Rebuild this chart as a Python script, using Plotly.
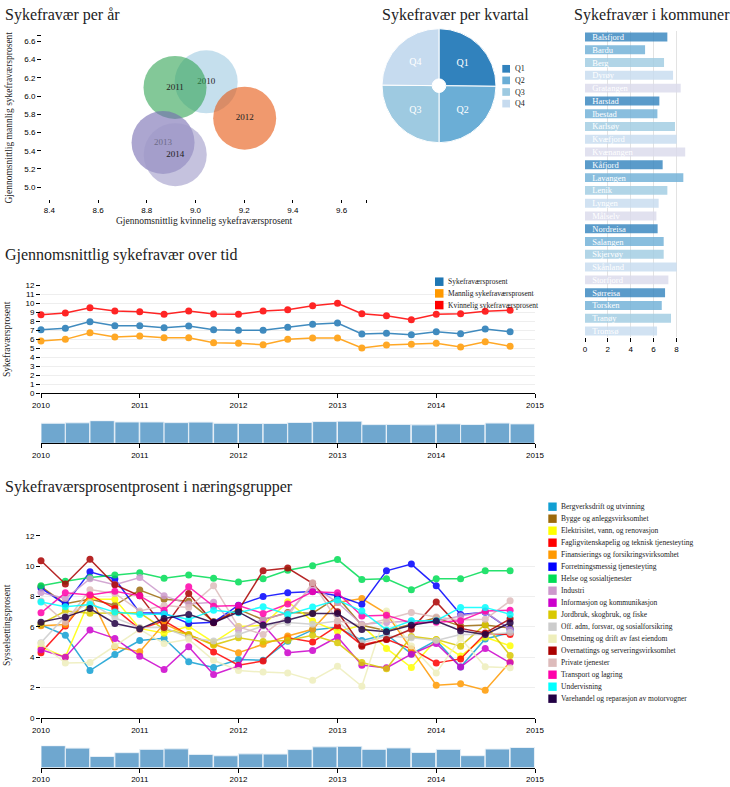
import plotly.graph_objects as go

W, H = 730, 787
def X(p):
    return p / W
def Y(p):
    return 1 - p / H

SERIF = "Liberation Serif, Times New Roman, serif"
SANS = "Liberation Sans, Arial, sans-serif"
TXT = "#222222"
tickfont = dict(family=SANS, size=8, color="#000")

# ---------------- data ----------------
years = ["2010", "2011", "2012", "2013", "2014"]
bubble_kvinnelig = [9.044, 8.916, 9.202, 8.867, 8.917]
bubble_mannlig = [6.156, 6.095, 5.757, 5.490, 5.357]

kvartaler = ["Q1", "Q2", "Q3", "Q4"]
kvartal_values = [7.2, 7.1, 7.2, 7.1]

kommuner = ["Balsfjord", "Bardu", "Berg", "Dyrøy", "Gratangen", "Harstad", "Ibestad",
            "Karlsøy", "Kvæfjord", "Kvænangen", "Kåfjord", "Lavangen", "Lenik", "Lyngen",
            "Målselv", "Nordreisa", "Salangen", "Skjervøy", "Skånland", "Storfjord",
            "Sørreisa", "Torsken", "Tranøy", "Tromsø"]
kommune_values = [7.21, 5.26, 6.92, 7.71, 8.38, 6.51, 6.34, 7.88, 8.03, 8.79, 6.80, 8.61,
                  7.21, 6.45, 6.25, 6.36, 6.89, 6.89, 8.03, 7.30, 7.01, 6.72, 7.53, 6.31]

quarter_dates = [f"{y}-{m:02d}-01" for y in range(2010, 2015) for m in (1, 4, 7, 10)]
year_ticks = [f"{y}-01-01" for y in range(2010, 2016)]
year_labels = [str(y) for y in range(2010, 2016)]

sykefravaer = [7.04, 7.19, 7.93, 7.48, 7.48, 7.26, 7.44, 7.04, 6.96, 6.96,
               7.30, 7.63, 7.78, 6.56, 6.63, 6.48, 6.81, 6.59, 7.11, 6.81]
mannlig = [5.78, 5.96, 6.70, 6.22, 6.33, 6.15, 6.15, 5.59, 5.52, 5.37,
           5.96, 6.11, 6.11, 5.00, 5.33, 5.41, 5.52, 5.11, 5.70, 5.19]
kvinnelig = [8.70, 8.89, 9.48, 9.11, 9.04, 8.74, 9.11, 8.78, 8.74, 9.11,
             9.26, 9.70, 9.96, 8.81, 8.59, 8.15, 8.74, 8.81, 9.07, 9.19]

bergverk = [6.12, 5.45, 3.12, 4.18, 5.10, 5.25, 3.70, 3.32, 3.85, 3.80, 5.05, 5.80, 5.97, 5.10, 5.50, 4.22, 5.10, 3.35, 5.20, 5.62]
bygge = [8.65, 7.52, 7.84, 7.42, 8.42, 7.81, 7.68, 6.35, 7.15, 6.47, 6.95, 6.90, 7.95, 6.10, 5.75, 6.16, 6.60, 6.05, 6.12, 5.92]
elektrisitet = [4.68, 4.01, 7.82, 7.82, 5.90, 5.58, 6.03, 4.98, 6.03, 6.10, 7.65, 6.38, 5.70, 6.10, 4.58, 3.32, 5.15, 4.08, 5.32, 4.75]
faglig = [4.30, 6.05, 8.12, 7.20, 5.85, 6.40, 5.45, 4.35, 3.47, 3.75, 5.28, 5.00, 6.07, 4.80, 5.18, 4.55, 3.62, 3.89, 5.55, 5.50]
finans = [6.07, 6.16, 8.05, 4.68, 4.36, 6.20, 5.47, 4.85, 4.30, 4.85, 5.40, 5.84, 7.60, 7.86, 6.87, 4.52, 2.16, 2.25, 1.83, 3.68]
forretning = [8.55, 7.48, 9.62, 9.15, 6.93, 6.90, 6.22, 6.30, 7.43, 7.99, 8.24, 8.32, 8.05, 7.48, 9.69, 10.13, 8.70, 6.82, 6.96, 5.83]
helse = [8.70, 9.00, 9.25, 9.42, 9.56, 9.20, 9.42, 9.20, 8.96, 9.17, 9.73, 10.02, 10.44, 9.12, 9.16, 8.45, 9.16, 9.16, 9.69, 9.69]
industri = [8.26, 7.86, 9.17, 8.78, 9.25, 8.04, 7.50, 7.62, 5.80, 6.50, 6.90, 8.70, 7.60, 6.17, 6.28, 6.39, 6.39, 6.72, 7.00, 5.80]
informasjon = [4.50, 4.00, 5.79, 5.24, 4.07, 3.19, 4.69, 2.86, 3.43, 6.15, 4.30, 4.45, 5.33, 3.48, 3.30, 4.20, 4.91, 3.35, 4.58, 3.63]
jordbruk = [6.20, 7.04, 6.90, 6.90, 6.92, 5.84, 5.50, 4.80, 5.28, 5.03, 5.10, 5.44, 4.95, 3.65, 3.24, 5.37, 5.17, 4.73, 6.16, 4.12]
offadm = [4.96, 6.70, 7.60, 6.60, 5.95, 5.95, 5.29, 5.07, 5.50, 6.06, 6.28, 6.17, 6.39, 4.96, 5.40, 5.29, 5.10, 5.50, 5.50, 5.62]
omsetning = [4.90, 3.62, 3.66, 4.75, 5.84, 4.90, 5.18, 3.80, 3.13, 3.02, 2.97, 2.49, 3.40, 2.09, 7.04, 4.74, 2.97, 5.25, 3.37, 3.30]
overnatting = [10.35, 8.82, 10.45, 8.77, 8.04, 5.95, 8.19, 6.27, 7.10, 9.70, 9.87, 8.87, 6.99, 4.73, 5.17, 5.84, 7.64, 5.90, 5.60, 6.53]
private = [7.70, 6.30, 8.45, 8.20, 7.05, 7.40, 7.27, 8.70, 6.00, 5.50, 6.70, 8.90, 6.40, 6.10, 6.50, 6.95, 6.65, 6.45, 6.50, 7.71]
transport = [6.92, 8.24, 8.10, 8.34, 8.04, 7.10, 8.64, 7.35, 7.40, 6.88, 7.50, 8.31, 8.24, 6.71, 6.77, 6.25, 6.30, 6.40, 7.05, 7.10]
undervisning = [7.64, 7.33, 7.47, 6.97, 6.82, 6.85, 6.48, 7.10, 6.93, 7.33, 6.82, 7.31, 7.76, 7.04, 5.80, 6.40, 6.40, 7.28, 7.28, 6.82]
varehandel = [6.31, 6.64, 7.20, 6.22, 5.87, 6.55, 6.82, 6.28, 6.98, 6.10, 6.45, 6.88, 6.88, 5.83, 5.67, 6.11, 6.38, 5.75, 5.50, 6.27]

naering_names = ["Bergverksdrift og utvinning", "Bygge og anleggsvirksomhet",
                 "Elektrisitet, vann, og renovasjon", "Fagligvitenskapelig og teknisk tjenesteyting",
                 "Finansierings og forsikringsvirksomhet", "Forretningsmessig tjenesteyting",
                 "Helse og sosialtjenester", "Industri", "Informasjon og kommunikasjon",
                 "Jordbruk, skogbruk, og fiske", "Off. adm, forsvar, og sosialforsikring",
                 "Omsetning og drift av fast eiendom", "Overnattings og serveringsvirksomhet",
                 "Private tjenester", "Transport og lagring", "Undervisning",
                 "Varehandel og reparasjon av motorvogner"]
naering_values = [bergverk, bygge, elektrisitet, faglig, finans, forretning, helse, industri,
                  informasjon, jordbruk, offadm, omsetning, overnatting, private, transport,
                  undervisning, varehandel]
naering_colors = ["#119fd3", "#9c6a0c", "#ffff00", "#ff0000", "#ff9900", "#0000ff", "#00dd55",
                  "#cc99cc", "#cc00cc", "#d9c800", "#cccccc", "#eeeebb", "#aa0000", "#ddbbbb",
                  "#ff00aa", "#00ffff", "#220044"]

# ---------------- figure ----------------
fig = go.Figure()

# Bubble chart
bubble_colors = ["#9ecae1", "#31a354", "#e6550d", "#756bb1", "#9e9ac8"]
for yr, kv, ma, c in zip(years, bubble_kvinnelig, bubble_mannlig, bubble_colors):
    fig.add_trace(go.Scatter(
        x=[kv], y=[ma], mode="markers+text", text=[yr], textposition="middle center",
        marker=dict(size=63, color=c, opacity=0.6, line=dict(width=0)),
        textfont=dict(family=SERIF, size=9, color=TXT),
        xaxis="x", yaxis="y", showlegend=False, hoverinfo="skip", cliponaxis=False))

# Pie
pie_colors = ["#3182bd", "#6baed6", "#9ecae1", "#c6dbef"]
fig.add_trace(go.Pie(
    labels=kvartaler, values=kvartal_values, sort=False, direction="clockwise", rotation=0,
    hole=0.12, domain=dict(x=[X(382), X(496)], y=[Y(142.7), Y(28.7)]),
    marker=dict(colors=pie_colors, line=dict(color="white", width=1)),
    textinfo="label", textposition="inside", insidetextorientation="horizontal",
    textfont=dict(family=SERIF, size=10, color="white"), showlegend=False, hoverinfo="skip"))

# Kommuner bars
bar_palette = ["#3182bd", "#6baed6", "#9ecae1", "#c6dbef", "#dadaeb"]
fig.add_trace(go.Bar(
    x=kommune_values, y=kommuner, orientation="h",
    marker=dict(color=[bar_palette[i % 5] for i in range(len(kommuner))], opacity=0.8, line=dict(width=0)),
    text=["\u00a0\u00a0" + k for k in kommuner], textposition="inside", insidetextanchor="start",
    textangle=0, constraintext="none",
    textfont=dict(family=SERIF, size=8.5, color="white"),
    xaxis="x2", yaxis="y2", showlegend=False, hoverinfo="skip"))

# Middle line chart
mid_series = [("Sykefraværsprosent", sykefravaer, "#1f77b4"),
              ("Mannlig sykefraværsprosent", mannlig, "#ff9900"),
              ("Kvinnelig sykefraværsprosent", kvinnelig, "#ff0000")]
for name, vals, col in mid_series:
    fig.add_trace(go.Scatter(
        x=quarter_dates, y=vals, mode="lines+markers", name=name,
        line=dict(color=col, width=1.5), marker=dict(color=col, size=7),
        opacity=0.85, xaxis="x3", yaxis="y3", showlegend=False, cliponaxis=False, hoverinfo="skip"))

QW = 90 * 86400000
fig.add_trace(go.Bar(
    x=quarter_dates, y=sykefravaer, offset=0, width=QW,
    marker=dict(color="#6fa7cf", line=dict(color="#e8f0f7", width=1)),
    xaxis="x4", yaxis="y4", showlegend=False, hoverinfo="skip"))

# Bottom line chart
for name, vals, col in zip(naering_names, naering_values, naering_colors):
    fig.add_trace(go.Scatter(
        x=quarter_dates, y=vals, mode="lines+markers", name=name,
        line=dict(color=col, width=1.5), marker=dict(color=col, size=7),
        opacity=0.85, xaxis="x5", yaxis="y5", showlegend=False, cliponaxis=False, hoverinfo="skip"))

fig.add_trace(go.Bar(
    x=quarter_dates, y=bergverk, offset=0, width=QW,
    marker=dict(color="#6fa7cf", line=dict(color="#e8f0f7", width=1)),
    xaxis="x6", yaxis="y6", showlegend=False, hoverinfo="skip"))

# ---------------- axes ----------------
def time_x(anchor):
    return dict(type="date", domain=[X(41), X(535)], range=[year_ticks[0], year_ticks[-1]],
                tickvals=year_ticks, ticktext=year_labels, ticks="outside", ticklen=4,
                tickcolor="#000", showline=True, linecolor="#000", linewidth=1,
                showgrid=False, zeroline=False, tickfont=tickfont, anchor=anchor, fixedrange=True)

layout_axes = dict(
    xaxis=dict(domain=[X(42), X(366)], range=[8.37, 9.70],
               tickvals=[8.4, 8.6, 8.8, 9.0, 9.2, 9.4, 9.6, 9.70],
               ticktext=["8.4", "8.6", "8.8", "9.0", "9.2", "9.4", "9.6", ""],
               ticks="outside", ticklen=3, tickcolor="#000", showgrid=False, zeroline=False,
               showline=False, tickfont=tickfont, anchor="y"),
    yaxis=dict(domain=[Y(199), Y(35)], range=[4.87, 6.67],
               tickvals=[5.0, 5.2, 5.4, 5.6, 5.8, 6.0, 6.2, 6.4, 6.6, 6.67],
               ticktext=["5.0", "5.2", "5.4", "5.6", "5.8", "6.0", "6.2", "6.4", "6.6", ""],
               ticks="outside", ticklen=4, tickcolor="#000", showgrid=False, zeroline=False,
               showline=False, tickfont=tickfont, anchor="x"),
    xaxis2=dict(domain=[X(585), X(685.5)], range=[0, 8.8], tickvals=[0, 2, 4, 6, 8],
                ticks="outside", ticklen=4, tickcolor="#000", showgrid=True, gridcolor="#e3e3e3",
                zeroline=False, showline=False, tickfont=tickfont, anchor="y2"),
    yaxis2=dict(domain=[Y(337.4), Y(30.6)], type="category", categoryorder="array",
                categoryarray=kommuner, autorange="reversed", showticklabels=False, ticks="",
                showgrid=False, zeroline=False, showline=False, anchor="x2"),
    xaxis3=time_x("y3"),
    yaxis3=dict(domain=[Y(393), Y(285)], range=[0, 12], tick0=0, dtick=1, ticks="outside",
                ticklen=4, tickcolor="#000", showgrid=True, gridcolor="#eeeeee", zeroline=False,
                showline=False, tickfont=tickfont, anchor="x3"),
    xaxis4=time_x("y4"),
    yaxis4=dict(domain=[Y(443.3), Y(420.7)], range=[0, max(sykefravaer)], visible=False,
                anchor="x4"),
    xaxis5=time_x("y5"),
    yaxis5=dict(domain=[Y(718), Y(535.7)], range=[0, 12], tick0=0, dtick=2, ticks="outside",
                ticklen=4, tickcolor="#000", showgrid=True, gridcolor="#eeeeee", zeroline=False,
                showline=False, tickfont=tickfont, anchor="x5"),
    xaxis6=time_x("y6"),
    yaxis6=dict(domain=[Y(767.7), Y(745.7)], range=[0, max(bergverk)], visible=False,
                anchor="x6"),
)

# ---------------- annotations & legends ----------------
ann = []
def title(text, x, y, anchor="left", size=16):
    ann.append(dict(text=text, x=X(x), y=Y(y), xref="paper", yref="paper", xanchor=anchor,
                    yanchor="middle", showarrow=False, font=dict(family=SERIF, size=size, color=TXT)))

title("Sykefravær per år", 3, 15)
title("Sykefravær per kvartal", 455, 15, anchor="center")
title("Sykefravær i kommuner", 572, 15)
title("Gjennomsnittlig sykefravær over tid", 3, 255)
title("Sykefraværsprosentprosent i næringsgrupper", 3, 487)

def axis_title(text, x, y, angle=0):
    ann.append(dict(text=text, x=X(x), y=Y(y), xref="paper", yref="paper", xanchor="center",
                    yanchor="middle", textangle=angle, showarrow=False,
                    font=dict(family=SERIF, size=9.5, color=TXT)))

axis_title("Gjennomsnittlig kvinnelig sykefraværsprosent", 204, 221)
axis_title("Gjennomsnittlig mannlig sykefraværsprosent", 9, 117.5, -90)
axis_title("Sykefraværsprosent", 7, 339, -90)
axis_title("Sysselsettingsprosent", 7, 625, -90)

shapes = []
def legend(names, colors, x0, y0, step, size, fsize):
    for i, (n, c) in enumerate(zip(names, colors)):
        cy = y0 + i * step
        shapes.append(dict(type="rect", xref="paper", yref="paper",
                           x0=X(x0), x1=X(x0 + size), y0=Y(cy + size / 2), y1=Y(cy - size / 2),
                           fillcolor=c, line=dict(width=0)))
        ann.append(dict(text=n, x=X(x0 + size + 2.5), y=Y(cy), xref="paper", yref="paper",
                        xanchor="left", yanchor="middle", showarrow=False,
                        font=dict(family=SERIF, size=fsize, color=TXT)))

legend(kvartaler, pie_colors, 502.3, 68.8, 11.6, 7.7, 8)
legend([s[0] for s in mid_series], [s[2] for s in mid_series], 435, 281.7, 11.7, 8.5, 7.5)
legend(naering_names, naering_colors, 548.3, 506.7, 12.0, 8.4, 7.5)

fig.update_layout(
    width=W, height=H, autosize=False, margin=dict(l=0, r=0, t=0, b=0),
    paper_bgcolor="white", plot_bgcolor="white", template="none",
    bargap=0.3, showlegend=False, annotations=ann, shapes=shapes, **layout_axes)

fig.write_html("out.html", config={"displayModeBar": False, "staticPlot": True},
               post_script="document.body.style.margin='0px';")
